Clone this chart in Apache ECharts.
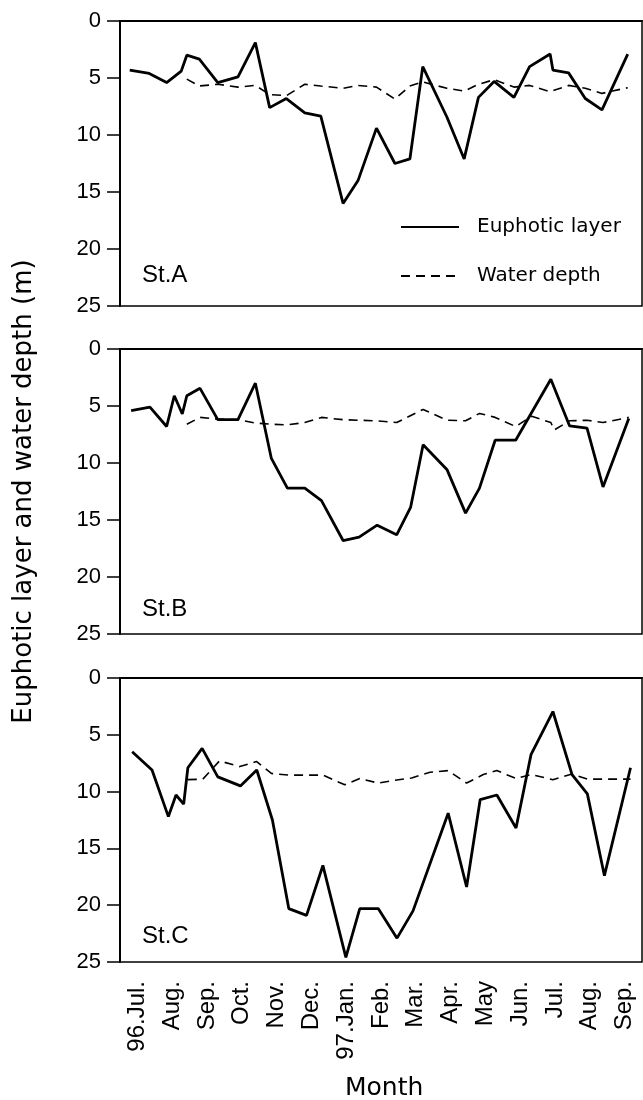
<!DOCTYPE html>
<html>
<head>
<meta charset="utf-8">
<script src="https://cdn.jsdelivr.net/npm/echarts@6/dist/echarts.min.js"></script>
<style>
  html, body { margin: 0; padding: 0; background: #fff; }
  #chart { width: 643px; height: 1100px; }
</style>
</head>
<body>
<div id="chart"></div>
<script>
// month bands on the x axis (one band per month, labels centred)
const months = ['96.Jul.', 'Aug.', 'Sep.', 'Oct.', 'Nov.', 'Dec.', '97.Jan.', 'Feb.', 'Mar.', 'Apr.', 'May', 'Jun.', 'Jul.', 'Aug.', 'Sep.']
const stations = ['St.A', 'St.B', 'St.C']

// sampling time in months since 1 Jul 1996, and depth in m
const eupA_t = [0.28, 0.84, 1.34, 1.76, 1.92, 2.28, 2.81, 3.39, 3.89, 4.30, 4.78, 5.31, 5.77, 6.41, 6.84, 7.37, 7.90, 8.33, 8.70, 9.39, 9.89, 10.30, 10.75, 11.32, 11.77, 12.36, 12.44, 12.89, 13.37, 13.85, 14.59]
const eupA = [4.3, 4.6, 5.4, 4.4, 3.0, 3.35, 5.4, 4.9, 1.9, 7.6, 6.8, 8.05, 8.35, 16.0, 14.0, 9.4, 12.5, 12.1, 4.0, 8.4, 12.1, 6.7, 5.3, 6.7, 4.0, 2.9, 4.3, 4.55, 6.8, 7.8, 2.9]
const depA_t = [1.92, 2.28, 2.81, 3.39, 3.89, 4.30, 4.78, 5.31, 5.77, 6.41, 6.84, 7.37, 7.90, 8.33, 8.70, 9.39, 9.89, 10.30, 10.75, 11.32, 11.77, 12.36, 12.89, 13.37, 13.85, 14.59]
const depA = [5.1, 5.7, 5.55, 5.8, 5.65, 6.45, 6.55, 5.55, 5.7, 5.9, 5.65, 5.8, 6.85, 5.7, 5.35, 5.9, 6.15, 5.55, 5.15, 5.8, 5.65, 6.2, 5.65, 5.9, 6.35, 5.85]

const eupB_t = [0.32, 0.86, 1.34, 1.56, 1.79, 1.92, 2.30, 2.81, 3.39, 3.89, 4.35, 4.81, 5.31, 5.79, 6.41, 6.87, 7.39, 7.95, 8.35, 8.71, 9.40, 9.93, 10.33, 10.78, 11.37, 12.38, 12.92, 13.42, 13.88, 14.62]
const eupB = [5.4, 5.1, 6.8, 4.1, 5.7, 4.1, 3.45, 6.2, 6.2, 3.0, 9.6, 12.2, 12.2, 13.3, 16.8, 16.5, 15.45, 16.3, 13.9, 8.4, 10.6, 14.4, 12.2, 8.0, 8.0, 2.65, 6.75, 6.95, 12.1, 6.1]
const depB_t = [1.92, 2.30, 2.81, 3.39, 3.89, 4.35, 4.81, 5.31, 5.79, 6.41, 6.87, 7.39, 7.95, 8.71, 9.40, 9.93, 10.33, 10.78, 11.37, 11.83, 12.38, 12.48, 12.92, 13.42, 13.88, 14.62]
const depB = [6.6, 6.0, 6.15, 6.2, 6.5, 6.6, 6.65, 6.45, 6.0, 6.2, 6.25, 6.3, 6.45, 5.3, 6.25, 6.3, 5.65, 6.0, 6.8, 5.9, 6.45, 7.1, 6.3, 6.25, 6.45, 6.0]

const eupC_t = [0.35, 0.92, 1.39, 1.61, 1.83, 1.95, 2.36, 2.81, 3.46, 3.93, 4.38, 4.85, 5.36, 5.83, 6.49, 6.89, 7.42, 7.96, 8.42, 9.43, 9.96, 10.35, 10.83, 11.38, 11.81, 12.44, 12.99, 13.43, 13.92, 14.67]
const eupC = [6.5, 8.1, 12.2, 10.3, 11.1, 7.9, 6.2, 8.7, 9.5, 8.1, 12.5, 20.3, 20.9, 16.5, 24.6, 20.3, 20.3, 22.9, 20.5, 11.9, 18.4, 10.7, 10.3, 13.2, 6.75, 2.95, 8.5, 10.2, 17.4, 7.9]
const depC_t = [1.95, 2.38, 2.86, 3.44, 3.92, 4.35, 4.85, 5.36, 5.83, 6.46, 6.89, 7.42, 7.90, 8.38, 8.91, 9.43, 9.96, 10.44, 10.83, 11.38, 11.81, 12.44, 12.99, 13.43, 13.92, 14.67]
const depC = [8.95, 8.9, 7.3, 7.8, 7.35, 8.4, 8.55, 8.55, 8.55, 9.4, 8.85, 9.25, 9.0, 8.8, 8.3, 8.15, 9.25, 8.5, 8.15, 8.85, 8.5, 8.95, 8.45, 8.9, 8.9, 8.9]

const eupT = [eupA_t, eupB_t, eupC_t]
const eupV = [eupA, eupB, eupC]
const depT = [depA_t, depB_t, depC_t]
const depV = [depA, depB, depC]

const pair = (t, v) => t.map((x, i) => [x, v[i]])

const tickFont = 'Liberation Sans, Arial, sans-serif'
const textFont = 'DejaVu Sans, sans-serif'
const tops = [21, 349, 678]
const heights = [285, 285, 284]

const grid = tops.map((top, i) => ({
  left: 120,
  width: 522,
  top: top,
  height: heights[i],
  outerBoundsMode: 'none',
  show: true,
  borderColor: '#000',
  borderWidth: 1.5,
}))

// category axes draw the month bands, value axes place the samples
const catAxes = tops.map((_, i) => ({
  type: 'category',
  gridIndex: i,
  data: months,
  boundaryGap: true,
  axisLine: { lineStyle: { color: '#000', width: 2 } },
  axisTick: { length: 12, lineStyle: { color: '#000', width: 1.5 } },
  axisLabel: {
    show: i === 2,
    interval: 0,
    rotate: 90,
    margin: 19,
    color: '#000',
    fontSize: 24,
    fontFamily: tickFont,
  },
}))
const valAxes = tops.map((_, i) => ({
  type: 'value',
  gridIndex: i,
  min: 0,
  max: 15,
  show: false,
}))

const yAxis = tops.map((_, i) => ({
  type: 'value',
  gridIndex: i,
  inverse: true,
  min: 0,
  max: 25,
  interval: 5,
  splitLine: { show: false },
  axisLine: { show: true, lineStyle: { color: '#000', width: 2 } },
  axisTick: { show: true, length: 13, lineStyle: { color: '#000', width: 1.5 } },
  axisLabel: { margin: 19, color: '#000', fontSize: 22, fontFamily: tickFont },
  name: i === 1 ? 'Euphotic layer and water depth (m)' : '',
  nameLocation: 'middle',
  nameRotate: 90,
  nameGap: 83,
  nameMoveOverlap: false,
  nameTextStyle: { color: '#000', fontSize: 26, fontFamily: textFont },
}))

const series = []
tops.forEach((_, i) => {
  series.push({
    name: 'Euphotic layer',
    type: 'line',
    xAxisIndex: 3 + i,
    yAxisIndex: i,
    data: pair(eupT[i], eupV[i]),
    symbol: 'none',
    lineStyle: { color: '#000', width: 2.8 },
    itemStyle: { color: '#000' },
    silent: true,
  })
  series.push({
    name: 'Water depth',
    type: 'line',
    xAxisIndex: 3 + i,
    yAxisIndex: i,
    data: pair(depT[i], depV[i]),
    symbol: 'none',
    lineStyle: { color: '#000', width: 1.6, type: [9, 6] },
    itemStyle: { color: '#000' },
    silent: true,
  })
})

const labelTops = [263, 597, 924]
const title = stations.map((s, i) => ({
  text: s,
  left: 142,
  top: labelTops[i],
  padding: 0,
  textStyle: { color: '#000', fontSize: 24, fontWeight: 'normal', fontFamily: tickFont },
}))

const chart = echarts.init(document.getElementById('chart'), null, { renderer: 'canvas' })
chart.setOption({
  backgroundColor: '#fff',
  animation: false,
  title: title,
  grid: grid,
  xAxis: catAxes.concat(valAxes),
  yAxis: yAxis,
  // x axis title, placed absolutely so it is not pushed back inside the canvas
  graphic: [{
    type: 'text',
    x: 345,
    y: 1076,
    silent: true,
    style: { text: 'Month', fill: '#000', font: '25px DejaVu Sans, sans-serif', verticalAlign: 'top' },
  }],
  legend: {
    data: ['Euphotic layer', 'Water depth'],
    orient: 'vertical',
    left: 400,
    top: 217,
    padding: 0,
    itemWidth: 58,
    itemHeight: 20,
    itemGap: 29,
    selectedMode: false,
    // hide the marker circle, keep the line sample
    itemStyle: { color: 'rgba(0,0,0,0)', borderWidth: 0 },
    textStyle: { color: '#000', fontSize: 20, fontFamily: textFont, padding: [0, 0, 0, 13] },
  },
  series: series,
})
</script>
</body>
</html>
